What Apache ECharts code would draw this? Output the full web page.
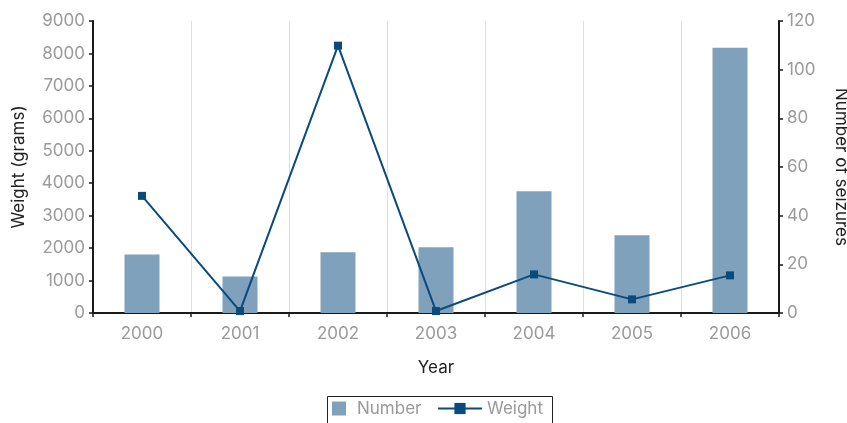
<!DOCTYPE html>
<html>
<head>
<meta charset="utf-8">
<script src="https://cdn.jsdelivr.net/npm/echarts@6/dist/echarts.min.js"></script>
<style>
  html, body { margin: 0; padding: 0; background: #fff; }
  #chart { width: 847px; height: 423px; }
</style>
</head>
<body>
<div id="chart"></div>
<script>
const years = ['2000', '2001', '2002', '2003', '2004', '2005', '2006']
const numberOfSeizures = [24, 15, 25, 27, 50, 32, 109]
const weightGrams = [3610, 60, 8240, 60, 1190, 420, 1160]

const FONT = 'Inter'
const BAR = '#7fa1bc'
const LINE = '#0b4a7d'
const GREY = '#9a9a9a'
const AXIS = '#1a1a1a'

const chart = echarts.init(document.getElementById('chart'))

chart.setOption({
  animation: false,
  textStyle: { fontFamily: FONT },
  grid: {
    left: 93,
    right: 68,
    top: 21,
    bottom: 110,
    outerBoundsMode: 'none',
    containLabel: false,
  },
  legend: [
    {
      data: [{ name: 'Number', icon: 'rect' }],
      left: 332,
      top: 400,
      padding: 0,
      itemWidth: 14,
      itemHeight: 14,
      itemStyle: { borderWidth: 0 },
      textStyle: { color: GREY, fontSize: 17, fontFamily: FONT, padding: [0, 0, 0, 6] },
    },
    {
      data: ['Weight'],
      left: 437,
      top: 400,
      padding: 0,
      itemWidth: 44,
      itemHeight: 14,
      textStyle: { color: GREY, fontSize: 17, fontFamily: FONT },
    },
  ],
  graphic: [
    {
      type: 'rect',
      left: 325,
      top: 394,
      shape: { width: 225, height: 28 },
      style: { fill: 'none', stroke: '#222', lineWidth: 1 },
      silent: true,
    },
  ],
  xAxis: [
    {
      type: 'category',
      data: years,
      name: 'Year',
      nameLocation: 'middle',
      nameGap: 46,
      nameTextStyle: { color: '#222', fontSize: 17 },
      axisLine: { lineStyle: { color: AXIS, width: 2 } },
      axisTick: { show: true, length: 4, lineStyle: { color: AXIS, width: 1.5 } },
      axisLabel: { color: GREY, fontSize: 17, margin: 12 },
      splitLine: { show: true, lineStyle: { color: '#dedede', width: 1 } },
      z: 1,
    },
    {
      // top border of the plot area
      type: 'category',
      data: years,
      position: 'top',
      axisLine: { show: true, lineStyle: { color: '#e2e2e2', width: 1.5 } },
      axisTick: { show: false },
      axisLabel: { show: false },
      splitLine: { show: false },
      z: 0,
    },
  ],
  yAxis: [
    {
      type: 'value',
      min: 0,
      max: 9000,
      interval: 1000,
      name: 'Weight (grams)',
      nameLocation: 'middle',
      nameGap: 66,
      nameTextStyle: { color: '#222', fontSize: 17 },
      axisLine: { show: true, lineStyle: { color: AXIS, width: 2 } },
      axisTick: { show: true, length: 4, lineStyle: { color: AXIS, width: 1.5 } },
      axisLabel: { color: GREY, fontSize: 17, margin: 8, formatter: (v) => String(v) },
      splitLine: { show: false },
      z: 3,
    },
    {
      type: 'value',
      min: 0,
      max: 120,
      interval: 20,
      name: 'Number of seizures',
      nameLocation: 'middle',
      nameGap: 54,
      nameRotate: -90,
      nameTextStyle: { color: '#222', fontSize: 17 },
      axisLine: { show: true, lineStyle: { color: AXIS, width: 2 } },
      axisTick: { show: true, length: 4, lineStyle: { color: AXIS, width: 1.5 } },
      axisLabel: { color: GREY, fontSize: 17, margin: 8 },
      splitLine: { show: false },
      z: 3,
    },
  ],
  series: [
    {
      name: 'Number',
      type: 'bar',
      yAxisIndex: 1,
      barWidth: 35,
      itemStyle: { color: BAR },
      data: numberOfSeizures,
    },
    {
      name: 'Weight',
      type: 'line',
      yAxisIndex: 0,
      symbol: 'rect',
      symbolSize: 8,
      lineStyle: { width: 2, color: LINE },
      itemStyle: { color: LINE },
      data: weightGrams,
    },
  ],
})
</script>
</body>
</html>
